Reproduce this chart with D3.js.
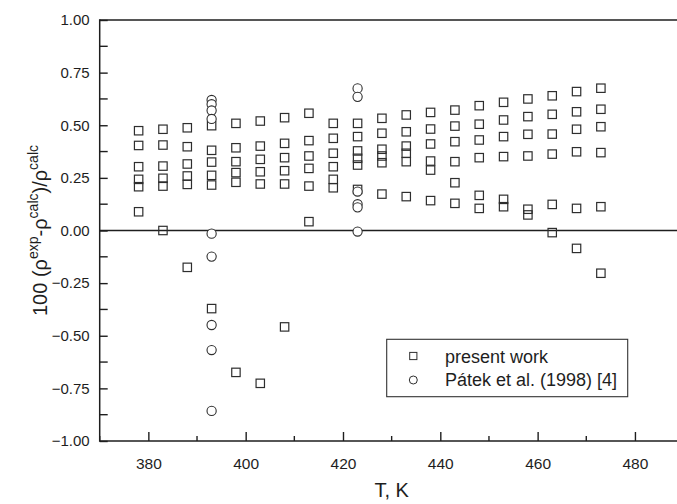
<!DOCTYPE html>
<html>
<head>
<meta charset="utf-8">
<script src="https://cdn.jsdelivr.net/npm/d3@7"></script>
<style>
  html, body { margin: 0; padding: 0; background: #fff; }
  svg { display: block; font-family: "Liberation Sans", Arial, sans-serif; }
</style>
</head>
<body>
<svg id="chart" width="677" height="504"></svg>
<script>
// Temperatures (K) of the measured isotherms
const temps = [378, 383, 388, 393, 398, 403, 408, 413, 418, 423,
               428, 433, 438, 443, 448, 453, 458, 463, 468, 473];

// Relative density deviations, present work: six points per isotherm
const dev1 = [0.474, 0.481, 0.488, 0.498, 0.509, 0.520, 0.536, 0.557, 0.509, 0.509,
              0.533, 0.549, 0.561, 0.572, 0.593, 0.609, 0.625, 0.640, 0.660, 0.676];
const dev2 = [0.404, 0.406, 0.398, 0.381, 0.393, 0.401, 0.414, 0.427, 0.438, 0.446,
              0.462, 0.469, 0.482, 0.496, 0.505, 0.525, 0.541, 0.552, 0.564, 0.576];
const dev3 = [0.303, 0.306, 0.316, 0.325, 0.327, 0.338, 0.346, 0.354, 0.367, 0.378,
              0.386, 0.401, 0.411, 0.422, 0.430, 0.446, 0.457, 0.458, 0.481, 0.493];
const dev4 = [0.243, 0.248, 0.259, 0.262, 0.275, 0.279, 0.284, 0.295, 0.303, 0.343,
              0.354, 0.367, 0.330, 0.327, 0.346, 0.351, 0.354, 0.363, 0.374, 0.370];
const dev5 = [0.208, 0.211, 0.219, 0.216, 0.229, 0.221, 0.221, 0.211, 0.243, 0.311,
              0.322, 0.327, 0.287, 0.227, 0.167, 0.148, 0.101, 0.124, 0.105, 0.113];
const dev6 = [0.089, 0.000, -0.175, -0.371, -0.674, -0.726, -0.458, 0.042, 0.203, 0.195,
              0.173, 0.161, 0.142, 0.129, 0.105, 0.113, 0.074, -0.010, -0.085, -0.203];

// Pátek et al. (1998)
const patekT   = [393, 393, 393, 393, 393, 393, 393, 393, 393,
                  423, 423, 423, 423, 423, 423];
const patekDev = [0.620, 0.600, 0.570, 0.530, -0.015, -0.124, -0.449, -0.568, -0.857,
                  0.675, 0.635, 0.185, 0.125, 0.110, -0.005];

// Axis ticks
const xTicks = [380, 400, 420, 440, 460, 480];
const xMinor = [370, 390, 410, 430, 450, 470, 490];
const yTicks = [-1.00, -0.75, -0.50, -0.25, 0.00, 0.25, 0.50, 0.75, 1.00];
const yMinor = [-0.875, -0.625, -0.375, -0.125, 0.125, 0.375, 0.625, 0.875];

const legendLabels = ["present work", "Pátek et al. (1998) [4]"];

const svg = d3.select("#chart");
const ink = "#1e1e1e";
const markInk = "#2e2e2e";

const x = d3.scaleLinear().domain([370, 490]).range([99.7, 683.6]);
const y = d3.scaleLinear().domain([-1, 1]).range([441, 20]);

const present = [];
[dev1, dev2, dev3, dev4, dev5, dev6].forEach(row =>
  row.forEach((v, i) => present.push({ t: temps[i], v })));
const patek = patekT.map((t, i) => ({ t, v: patekDev[i] }));

// Frame: top line at 1.00, zero reference line
svg.append("line")
  .attr("x1", x(370)).attr("x2", 677)
  .attr("y1", y(1)).attr("y2", y(1))
  .attr("stroke", ink).attr("stroke-width", 1.5);
svg.append("line")
  .attr("x1", x(370)).attr("x2", 677)
  .attr("y1", y(0)).attr("y2", y(0))
  .attr("stroke", ink).attr("stroke-width", 1.5);

// Bottom axis (ticks point inward)
const xAxis = svg.append("g").attr("transform", `translate(0,${y(-1)})`);
xAxis.call(d3.axisBottom(x).tickValues(xTicks).tickSizeInner(-9).tickSizeOuter(0).tickPadding(17)
  .tickFormat(d3.format("d")));
xAxis.select(".domain").remove();
xAxis.append("line").attr("x1", x(370)).attr("x2", 677)
  .attr("stroke", ink).attr("stroke-width", 1.5);
xAxis.selectAll(".tick line").attr("stroke", ink).attr("stroke-width", 1.4);
xAxis.selectAll(".tick text").attr("fill", ink).attr("font-size", 15.5)
  .attr("font-family", "Liberation Sans, Arial, sans-serif");
xAxis.selectAll(".minor").data(xMinor).enter().append("line")
  .attr("class", "minor")
  .attr("x1", d => x(d)).attr("x2", d => x(d))
  .attr("y1", 0).attr("y2", -5)
  .attr("stroke", ink).attr("stroke-width", 1.4);

// Left axis (ticks point inward)
const yAxis = svg.append("g").attr("transform", `translate(${x(370)},0)`);
yAxis.call(d3.axisLeft(y).tickValues(yTicks).tickSizeInner(-8).tickSizeOuter(0).tickPadding(10)
  .tickFormat(d3.format(".2f")));
yAxis.select(".domain").remove();
yAxis.append("line").attr("y1", y(1) - 0.75).attr("y2", y(-1) + 0.75)
  .attr("stroke", ink).attr("stroke-width", 1.5);
yAxis.selectAll(".tick line").attr("stroke", ink).attr("stroke-width", 1.4);
yAxis.selectAll(".tick text").attr("fill", ink).attr("font-size", 15)
  .attr("font-family", "Liberation Sans, Arial, sans-serif");
yAxis.selectAll(".minor").data(yMinor).enter().append("line")
  .attr("class", "minor")
  .attr("x1", 0).attr("x2", 8)
  .attr("y1", d => y(d)).attr("y2", d => y(d))
  .attr("stroke", ink).attr("stroke-width", 1.4);

// Axis titles, centred on their axes
svg.append("text")
  .attr("x", (x(370) + x(490)) / 2).attr("y", 497)
  .attr("text-anchor", "middle")
  .attr("font-size", 20).attr("fill", ink)
  .text("T, K");

const yTitle = svg.append("text")
  .attr("transform", `translate(47,${(y(1) + y(-1)) / 2}) rotate(-90)`)
  .attr("text-anchor", "middle")
  .attr("font-size", 20).attr("fill", ink);
yTitle.append("tspan").text("100 (ρ");
yTitle.append("tspan").attr("font-size", 14).attr("dy", -9).text("exp");
yTitle.append("tspan").attr("dy", 9).text("-ρ");
yTitle.append("tspan").attr("font-size", 14).attr("dy", -9).text("calc");
yTitle.append("tspan").attr("dy", 9).text(")/ρ");
yTitle.append("tspan").attr("font-size", 14).attr("dy", -9).text("calc");

// Data markers
const sq = 8.4;
svg.append("g").selectAll("rect").data(present).enter().append("rect")
  .attr("x", d => x(d.t) - sq / 2).attr("y", d => y(d.v) - sq / 2)
  .attr("width", sq).attr("height", sq)
  .attr("fill", "none")
  .attr("stroke", markInk).attr("stroke-width", 1.2);

svg.append("g").selectAll("circle").data(patek).enter().append("circle")
  .attr("cx", d => x(d.t)).attr("cy", d => y(d.v)).attr("r", 4.6)
  .attr("fill", "#fff")
  .attr("stroke", markInk).attr("stroke-width", 1.1);

// Legend
const lg = svg.append("g");
lg.append("rect")
  .attr("x", 386.7).attr("y", 339.3).attr("width", 241).attr("height", 57.4)
  .attr("fill", "#fff").attr("stroke", "#333").attr("stroke-width", 1.1);
lg.append("rect")
  .attr("x", 413.3 - 3.6).attr("y", 356 - 3.6).attr("width", 7.2).attr("height", 7.2)
  .attr("fill", "none").attr("stroke", markInk).attr("stroke-width", 1);
lg.append("circle")
  .attr("cx", 413.3).attr("cy", 380).attr("r", 4)
  .attr("fill", "none").attr("stroke", markInk).attr("stroke-width", 1);
lg.selectAll("text.lbl").data(legendLabels).enter().append("text")
  .attr("class", "lbl")
  .attr("x", 445).attr("y", (d, i) => 363 + i * 23)
  .attr("font-size", 18).attr("fill", ink)
  .text(d => d);
</script>
</body>
</html>
